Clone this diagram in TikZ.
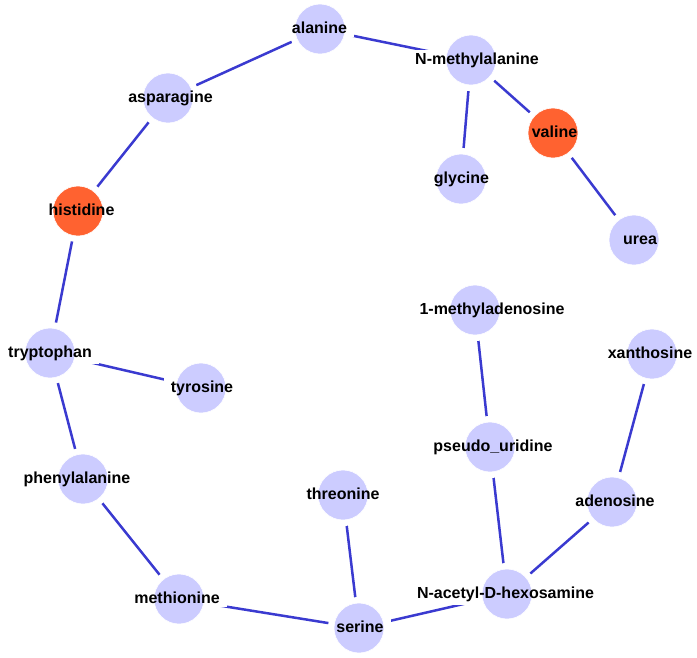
\documentclass[tikz,border=0pt]{standalone}
\usepackage{fontspec}
\setmainfont{Liberation Sans}
\definecolor{nodeblue}{RGB}{204,204,255}
\definecolor{nodeorange}{RGB}{255,98,48}
\definecolor{edgeblue}{RGB}{58,58,208}
\pgfdeclarelayer{edges}
\pgfdeclarelayer{halo}
\pgfsetlayers{edges,halo,main}
\begin{document}
\begin{tikzpicture}[x=1pt,y=-1pt,
  met/.style={circle,minimum size=50pt,inner sep=0pt,draw=white,line width=0.6pt},
  lbl/.style={font=\bfseries\fontsize{16}{16}\selectfont,inner sep=0pt,anchor=base,text=black},
  edge/.style={draw=edgeblue,line width=2.5pt}]
\useasboundingbox (0,0) rectangle (697,657);
\foreach \n/\x/\y/\lx/\t/\c in {
  ala/320/29/319.5/alanine/nodeblue,
  nma/471/60/477/N-methylalanine/nodeblue,
  asn/168/98/170.5/asparagine/nodeblue,
  val/553/133/554.5/valine/nodeorange,
  gly/461/179/461.5/glycine/nodeblue,
  his/78/211/81.5/histidine/nodeorange,
  urea/634/240/640/urea/nodeblue,
  mad/475/310/492/1-methyladenosine/nodeblue,
  xan/652/354/650/xanthosine/nodeblue,
  trp/50/353/50/tryptophan/nodeblue,
  tyr/201/388/202/tyrosine/nodeblue,
  psu/490/447/493/pseudo\_uridine/nodeblue,
  phe/83/479/77/phenylalanine/nodeblue,
  thr/343/495/343/threonine/nodeblue,
  ade/612/502/615/adenosine/nodeblue,
  met/179/599/177/methionine/nodeblue,
  nac/507/594/505.5/N-acetyl-D-hexosamine/nodeblue,
  ser/359/628/360/serine/nodeblue}{
  \node[met,fill=\c] (\n) at (\x,\y) {};
  \node[lbl] (\n-t) at (\lx,\y+4.5) {\t};
  \begin{pgfonlayer}{halo}
    \fill[white] (\n) circle (31);
    \fill[white] ([xshift=-7pt,yshift=-3pt]\n-t.south west) rectangle ([xshift=7pt,yshift=3pt]\n-t.north east);
  \end{pgfonlayer}
}
\begin{pgfonlayer}{edges}
\foreach \a/\b in {asn/ala, ala/nma, nma/gly, nma/val, val/urea, asn/his, his/trp,
  trp/tyr, trp/phe, phe/met, met/ser, thr/ser, ser/nac, psu/nac, mad/psu, nac/ade, ade/xan}
  \draw[edge] (\a) -- (\b);
\end{pgfonlayer}
\end{tikzpicture}
\end{document}
